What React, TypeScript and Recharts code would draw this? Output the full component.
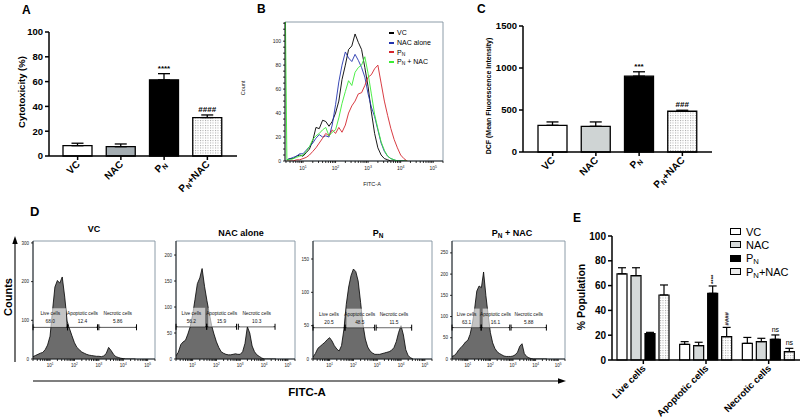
import React from 'react';
import {
  BarChart, Bar, Cell, XAxis, YAxis, ErrorBar, LabelList,
  LineChart, Line, AreaChart, Area, ReferenceLine, ReferenceArea, Legend,
} from 'recharts';

const FONT = 'Arial, "Liberation Sans", Helvetica, sans-serif';
const FRAME = '#7f919e';

// ---- A: cytotoxicity (%)
const treatments = ['VC', 'NAC', 'PN', 'PN+NAC'];
const cytotoxicity = [8.3, 7.5, 61.4, 31.0];
const cytotoxicityErr = [2.0, 2.2, 5.0, 2.1];
const cytotoxicitySig = ['', '', '****', '####'];

// ---- C: DCF mean fluorescence intensity
const dcfMfi = [318, 306, 903, 485];
const dcfErr = [40, 52, 52, 12];
const dcfSig = ['', '', '***', '###'];

// ---- B: DCF overlay histogram (FITC-A vs count)
const fitcB = [2.9, 3.2, 4, 5, 6.3, 7.9, 10, 12.6, 15.8, 20, 25, 31.6, 40, 50, 63, 79, 100, 126, 158, 200, 251, 316, 398, 501, 631, 794, 1000, 1259, 1585, 1995, 2512, 3162, 3981, 5012, 6310, 7943, 10000, 12589, 15849];
const bVC = [null, 1, 2, 2, 4, 5, 4, 7, 10, 17, 28, 27, 34, 33, 29, 33, 40, 50, 68, 80, 93, 96, 106, 99, 93, 78, 62, 41, 23, 11, 5, 2, 1, 0, 0, 0, 0, 0, 0];
const bNAC = [null, 1, 2, 3, 4, 6, 6, 9, 12, 15, 19, 22, 20, 21, 20, 30, 47, 66, 80, 91, 86, 83, 89, 84, 78, 70, 56, 45, 37, 26, 15, 8, 4, 2, 1, 0, 0, 0, 0];
const bPN = [null, 0, 0, 0, 1, 1, 2, 3, 5, 8, 11, 15, 19, 23, 21, 26, 23, 28, 24, 30, 40, 46, 50, 56, 57, 63, 70, 72, 77, 80, 65, 50, 38, 27, 18, 11, 5, 2, 0];
const bPNNAC = [116, 1, 1, 2, 3, 4, 5, 8, 12, 18, 21, 23, 26, 28, 21, 24, 26, 36, 48, 58, 67, 63, 74, 78, 80, 87, 73, 56, 39, 27, 16, 9, 4, 2, 1, 0, 0, 0, 0];
const bSeries = [
  { key: 'vc', label: 'VC', color: '#000000' },
  { key: 'nac', label: 'NAC alone', color: '#2434ae' },
  { key: 'pn', label: 'PN', color: '#d4262e' },
  { key: 'pnNac', label: 'PN + NAC', color: '#3aec34' },
];

// ---- D: annexin histograms
const fitcD = [2, 2.5, 3.2, 4, 5, 6.3, 7.9, 10, 12.6, 15.8, 20, 25, 31.6, 40, 50, 63, 79, 100, 126, 158, 200, 251, 316, 398, 501, 631, 794, 1000, 1259, 1585, 1995, 2512, 3162, 3981, 5012, 6310, 7943, 10000, 12589, 15849, 19953, 25119, 31623];
const dVC = [6, 9, 12, 15, 17, 24, 36, 59, 125, 186, 203, 196, 212, 160, 98, 78, 60, 42, 30, 24, 18, 15, 12, 10, 9, 8, 7, 7, 6, 8, 14, 30, 22, 12, 6, 4, 2, 1, 0, 0, 0, 0, 0];
const dNAC = [6, 13, 28, 33, 36, 48, 62, 85, 115, 145, 156, 174, 140, 112, 88, 64, 48, 33, 22, 14, 11, 9, 8, 8, 9, 10, 9, 9, 14, 30, 62, 50, 25, 14, 8, 5, 2, 0, 0, 0, 0, 0, 0];
const dPN = [3, 8, 16, 19, 22, 25, 29, 32, 27, 20, 15, 12, 20, 45, 82, 108, 125, 135, 131, 117, 85, 52, 30, 18, 12, 9, 7, 7, 7, 8, 9, 10, 11, 13, 17, 26, 40, 50, 36, 14, 5, 2, 0];
const dPNNAC = [6, 8, 14, 22, 27, 33, 40, 44, 58, 82, 118, 160, 172, 168, 205, 150, 105, 62, 38, 25, 17, 13, 10, 7, 6, 6, 6, 7, 10, 16, 30, 36, 13, 6, 3, 1, 0, 0, 0, 0, 0, 0, 0];
const gateNames = ['Live cells', 'Apoptotic cells', 'Necrotic cells'];
const gatesVC = [[2, 52], [52, 880], [1000, 35000]];
const gatesNAC = [[2, 39], [39, 700], [830, 29000]];
const gatesPN = [[2, 44], [44, 780], [900, 28000]];
const gatesPNNAC = [[2, 39], [39, 720], [820, 30000]];
const pctVC = ['68.0', '12.4', '5.86'];
const pctNAC = ['56.2', '15.9', '10.3'];
const pctPN = ['20.5', '48.5', '11.5'];
const pctPNNAC = ['63.1', '16.1', '5.88'];

// ---- E: % population
const populations = ['Live cells', 'Apoptotic cells', 'Necrotic cells'];
const popVC = [69.5, 12.6, 13.4];
const popVCErr = [4.9, 2.2, 4.8];
const popNAC = [68.0, 11.6, 14.8];
const popNACErr = [6.4, 2.7, 2.7];
const popPN = [21.3, 53.8, 16.7];
const popPNErr = [1.0, 5.9, 3.5];
const popPNNAC = [52.4, 18.8, 6.7];
const popPNNACErr = [8.1, 7.5, 2.7];
const popPNSig = ['', '****', 'ns'];
const popPNNACSig = ['', '####', 'ns'];

const logTicks = (lo: number, hi: number) => {
  const out: number[] = [];
  for (let d = 1; d <= 100000; d *= 10) {
    for (let m = 1; m < 10; m++) {
      const v = m * d;
      if (v >= lo && v <= hi) out.push(v);
    }
  }
  return out;
};

const subPN = (label: string, sub: number, shift = 2) => {
  if (!label.startsWith('PN')) return label;
  const rest = label.slice(2);
  return [
    <tspan key="p">P</tspan>,
    <tspan key="n" fontSize={sub} dy={shift}>N</tspan>,
    rest ? <tspan key="r" dy={-shift}>{rest}</tspan> : null,
  ];
};

const htmlPN = (label: string) =>
  label.startsWith('PN') ? (
    <>P<sub style={{ fontSize: '0.7em', verticalAlign: '-0.3em', lineHeight: 0 }}>N</sub>{label.slice(2)}</>
  ) : label;

const RotTick = (p: any) => {
  const { x, y, payload, fs } = p;
  return (
    <g transform={`translate(${x + 3},${y + 3})`}>
      <text transform="rotate(-45)" textAnchor="end" fontSize={fs} fontWeight="bold" fontFamily={FONT} fill="#000">
        {subPN(String(payload.value), fs * 0.7)}
      </text>
    </g>
  );
};

const LogTick = (p: any) => {
  const v = Number(p.payload?.value);
  const l = Math.log10(v);
  const e = Math.round(l);
  if (Math.abs(l - e) > 1e-6) return null;
  return (
    <text x={p.x} y={p.y + p.fs * 0.9} textAnchor="middle" fontSize={p.fs} fontFamily={FONT} fill="#222">
      10<tspan dy={-p.fs * 0.4} fontSize={p.fs * 0.7}>{e}</tspan>
    </text>
  );
};

const sigContent = (errs: number[], pxPerUnit: number, fs: number) => (p: any) => {
  const { x, y, width, value, index } = p;
  if (!value) return null;
  const cx = Number(x) + Number(width) / 2;
  const top = Number(y) - errs[index] * pxPerUnit;
  if (value === 'ns') {
    return <text x={cx} y={top - 3} textAnchor="middle" fontSize={7} fontFamily={FONT} fill="#000">{value}</text>;
  }
  if (fs < 7) {
    const yy = top - 2;
    return (
      <text x={cx} y={yy} transform={`rotate(-90 ${cx} ${yy})`} textAnchor="start" dominantBaseline="central" fontSize={fs} fontWeight="bold" fontFamily={FONT} fill="#000">{value}</text>
    );
  }
  return <text x={cx} y={top - 3} textAnchor="middle" fontSize={fs} fontWeight="bold" fontFamily={FONT} fill="#000">{value}</text>;
};

const axisLine = { stroke: '#000', strokeWidth: 1.5 };
const boldTick = (fs: number) => ({ fontSize: fs, fontWeight: 'bold', fill: '#000', fontFamily: FONT });

// ---------------- A
const rowsA = treatments.map((name, i) => ({ name, value: cytotoxicity[i], err: [0, cytotoxicityErr[i]], sig: cytotoxicitySig[i] }));
const fillA = ['#ffffff', '#a4adb2', '#000000', 'url(#dots)'];

function PanelA() {
  return (
    <div style={{ position: 'absolute', left: 0, top: 0 }}>
      <BarChart width={250} height={200} data={rowsA} margin={{ top: 32, right: 13, left: 0, bottom: 0 }}>
        <XAxis dataKey="name" height={44} padding={{ left: 7, right: 8 }} axisLine={axisLine} tickLine={axisLine} tickSize={4} interval={0} tick={(p: any) => <RotTick {...p} fs={10} />} />
        <YAxis width={49} domain={[0, 100]} ticks={[0, 20, 40, 60, 80, 100]} axisLine={axisLine} tickLine={axisLine} tickSize={4} tick={boldTick(9.5)} />
        <Bar dataKey="value" barSize={29} stroke="#000" strokeWidth={1.3} isAnimationActive={false}>
          {rowsA.map((r, i) => <Cell key={r.name} fill={fillA[i]} />)}
          <ErrorBar dataKey="err" width={6} stroke="#000" strokeWidth={1.3} />
          <LabelList dataKey="sig" content={sigContent(cytotoxicityErr, 1.24, 8)} />
        </Bar>
      </BarChart>
    </div>
  );
}

// ---------------- C
const rowsC = treatments.map((name, i) => ({ name, value: dcfMfi[i], err: [0, dcfErr[i]], sig: dcfSig[i] }));
const fillC = ['#ffffff', '#cfd4d4', '#000000', 'url(#dots)'];

function PanelC() {
  return (
    <div style={{ position: 'absolute', left: 470, top: 0 }}>
      <BarChart width={250} height={200} data={rowsC} margin={{ top: 26, right: 8, left: 0, bottom: 0 }}>
        <XAxis dataKey="name" height={48} padding={{ left: 8, right: 8 }} axisLine={axisLine} tickLine={axisLine} tickSize={4} interval={0} tick={(p: any) => <RotTick {...p} fs={10} />} />
        <YAxis width={53} domain={[0, 1500]} ticks={[0, 500, 1000, 1500]} axisLine={axisLine} tickLine={axisLine} tickSize={4} tick={boldTick(9.5)} />
        <Bar dataKey="value" barSize={29} stroke="#000" strokeWidth={1.3} isAnimationActive={false}>
          {rowsC.map((r, i) => <Cell key={r.name} fill={fillC[i]} />)}
          <ErrorBar dataKey="err" width={6} stroke="#000" strokeWidth={1.3} />
          <LabelList dataKey="sig" content={sigContent(dcfErr, 126 / 1500, 8)} />
        </Bar>
      </BarChart>
    </div>
  );
}

// ---------------- B
const rowsB = fitcB.map((x, i) => ({ x, vc: bVC[i], nac: bNAC[i], pn: bPN[i], pnNac: bPNNAC[i] }));
const ticksB = logTicks(2.8, 200000);
const ticksBY = Array.from({ length: 24 }, (_, i) => i * 5);

const LegendB = () => (
  <div style={{ fontFamily: FONT, fontSize: 7, color: '#000' }}>
    {bSeries.map((s) => (
      <div key={s.key} style={{ display: 'flex', alignItems: 'center', height: 9.7, whiteSpace: 'nowrap' }}>
        <span style={{ display: 'inline-block', width: 5, height: 2, background: s.color, marginRight: 3 }} />
        <span>{htmlPN(s.label)}</span>
      </div>
    ))}
  </div>
);

function PanelB() {
  const thin = { stroke: '#000', strokeWidth: 0.8 };
  return (
    <div style={{ position: 'absolute', left: 265, top: 0 }}>
      <LineChart width={183} height={175} data={rowsB} margin={{ top: 22, right: 5, left: 0, bottom: 0 }}>
        <XAxis dataKey="x" type="number" scale="log" domain={[2.8, 200000]} allowDataOverflow ticks={ticksB} interval={0} height={14} axisLine={thin} tickLine={thin} tickSize={2} tick={(p: any) => <LogTick {...p} fs={5} />} />
        <YAxis type="number" domain={[0, 116]} allowDataOverflow ticks={ticksBY} interval={0} width={20} axisLine={thin} tickLine={thin} tickSize={2} tickFormatter={(v: number) => (v % 20 === 0 ? String(v) : '')} tick={{ fontSize: 5, fill: '#222', fontFamily: FONT }} />
        <ReferenceArea x1={2.8} x2={200000} y1={0} y2={116} fill="none" stroke={FRAME} strokeWidth={0.9} ifOverflow="visible" />
        {bSeries.map((s) => (
          <Line key={s.key} dataKey={s.key} stroke={s.color} strokeWidth={0.9} dot={false} type="linear" isAnimationActive={false} />
        ))}
        <Legend layout="vertical" align="center" verticalAlign="middle" content={LegendB} wrapperStyle={{ left: 124, top: 28, width: 60 }} />
      </LineChart>
    </div>
  );
}

// ---------------- D
const gateLabel = (name: string, pct: string) => (props: any) => {
  const vb = props.viewBox ?? props;
  const x = Number(vb.x) || 0;
  const y = Number(vb.y) || 0;
  const w = Number(vb.width) || 0;
  const cx = x + w / 2;
  return (
    <g>
      <rect x={x + 1.5} y={y - 19} width={Math.max(w - 3, 0)} height={19} fill="#ffffff" fillOpacity={0.6} />
      <line x1={x} x2={x} y1={y - 3} y2={y + 3} stroke="#000" strokeWidth={1} />
      <line x1={x + w} x2={x + w} y1={y - 3} y2={y + 3} stroke="#000" strokeWidth={1} />
      <text x={cx} y={y - 12} textAnchor="middle" fontSize={4.8} fontFamily={FONT} fill="#111">{name}</text>
      <text x={cx} y={y - 4} textAnchor="middle" fontSize={4.8} fontFamily={FONT} fill="#111">{pct}</text>
    </g>
  );
};

const histograms = [
  { id: 'vc', left: 33, plotW: 122, counts: dVC, yMax: 305, yTicks: [0, 100, 200, 300], gates: gatesVC, pcts: pctVC, level: 82 },
  { id: 'nac', left: 176, plotW: 119, counts: dNAC, yMax: 227, yTicks: [0, 50, 100, 150, 200], gates: gatesNAC, pcts: pctNAC, level: 62 },
  { id: 'pn', left: 313, plotW: 119, counts: dPN, yMax: 177, yTicks: [0, 50, 100, 150], gates: gatesPN, pcts: pctPN, level: 47 },
  { id: 'pnNac', left: 452, plotW: 113, counts: dPNNAC, yMax: 278, yTicks: [0, 50, 100, 150, 200, 250], gates: gatesPNNAC, pcts: pctPNNAC, level: 74 },
];
const ticksD = logTicks(2, 200000);

function Histogram({ h }: { h: (typeof histograms)[number] }) {
  const yw = 18;
  const rows = fitcD.map((x, i) => ({ x, c: h.counts[i] }));
  const thin = { stroke: '#000', strokeWidth: 0.8 };
  return (
    <div style={{ position: 'absolute', left: h.left - yw, top: 239 }}>
      <AreaChart width={h.plotW + yw + 1} height={130} data={rows} margin={{ top: 2, right: 1, left: 0, bottom: 0 }}>
        <XAxis dataKey="x" type="number" scale="log" domain={[2, 200000]} allowDataOverflow ticks={ticksD} interval={0} height={10} axisLine={thin} tickLine={thin} tickSize={2} tick={(p: any) => <LogTick {...p} fs={4.5} />} />
        <YAxis type="number" domain={[0, h.yMax]} allowDataOverflow ticks={h.yTicks} interval={0} width={yw} axisLine={thin} tickLine={thin} tickSize={2} tick={{ fontSize: 4.5, fill: '#222', fontFamily: FONT }} />
        <ReferenceArea x1={2} x2={200000} y1={0} y2={h.yMax} fill="none" stroke={FRAME} strokeWidth={0.9} ifOverflow="visible" />
        <Area dataKey="c" type="linear" stroke="#000" strokeWidth={0.8} fill="#6c6c6c" fillOpacity={1} isAnimationActive={false} />
        {h.gates.map((g, i) => (
          <ReferenceLine
            key={gateNames[i]}
            segment={[{ x: g[0], y: h.level }, { x: g[1], y: h.level }]}
            stroke="#000"
            strokeWidth={0.9}
            ifOverflow="visible"
            label={gateLabel(gateNames[i], h.pcts[i])}
          />
        ))}
      </AreaChart>
    </div>
  );
}

// ---------------- E
const rowsE = populations.map((name, i) => ({
  name,
  vc: popVC[i], vcErr: [0, popVCErr[i]],
  nac: popNAC[i], nacErr: [0, popNACErr[i]],
  pn: popPN[i], pnErr: [0, popPNErr[i]], pnSig: popPNSig[i],
  pnNac: popPNNAC[i], pnNacErr: [0, popPNNACErr[i]], pnNacSig: popPNNACSig[i],
}));
const eSeries = [
  { key: 'vc', label: 'VC', fill: '#ffffff', css: '#ffffff' },
  { key: 'nac', label: 'NAC', fill: '#d5d9d9', css: '#d5d9d9' },
  { key: 'pn', label: 'PN', fill: '#000000', css: '#000000' },
  { key: 'pnNac', label: 'PN+NAC', fill: 'url(#dots)', css: '#ececec' },
];

const LegendE = () => (
  <div style={{ fontFamily: FONT, fontSize: 11, color: '#000' }}>
    {eSeries.map((s) => (
      <div key={s.key} style={{ display: 'flex', alignItems: 'center', height: 13.3, whiteSpace: 'nowrap' }}>
        <span style={{ display: 'inline-block', width: 11, height: 7, boxSizing: 'border-box', border: '1.2px solid #000', background: s.css, marginRight: 5 }} />
        <span>{htmlPN(s.label)}</span>
      </div>
    ))}
  </div>
);

function PanelE() {
  return (
    <div style={{ position: 'absolute', left: 560, top: 205 }}>
      <BarChart width={243} height={214} data={rowsE} margin={{ top: 31, right: 3, left: 0, bottom: 0 }} barSize={10} barGap={4}>
        <XAxis dataKey="name" height={59} axisLine={axisLine} tickLine={axisLine} tickSize={4} interval={0} tick={(p: any) => <RotTick {...p} fs={9.5} />} />
        <YAxis width={52} domain={[0, 100]} ticks={[0, 20, 40, 60, 80, 100]} axisLine={axisLine} tickLine={axisLine} tickSize={4} tick={boldTick(10)} />
        {eSeries.map((s) => (
          <Bar key={s.key} dataKey={s.key} fill={s.fill} stroke="#000" strokeWidth={1.2} isAnimationActive={false}>
            <ErrorBar dataKey={`${s.key}Err`} width={4} stroke="#000" strokeWidth={1.2} />
            {s.key === 'pn' && <LabelList dataKey="pnSig" content={sigContent(popPNErr, 1.24, 6)} />}
            {s.key === 'pnNac' && <LabelList dataKey="pnNacSig" content={sigContent(popPNNACErr, 1.24, 6)} />}
          </Bar>
        ))}
        <Legend layout="vertical" align="center" verticalAlign="middle" content={LegendE} wrapperStyle={{ left: 170, top: 20, width: 75 }} />
      </BarChart>
    </div>
  );
}

function Overlay() {
  const b = { fontFamily: FONT, fontWeight: 'bold' as const, fill: '#000' };
  return (
    <svg width={803} height={419} style={{ position: 'absolute', left: 0, top: 0, pointerEvents: 'none' }}>
      <text x={22} y={14} fontSize={12} {...b}>A</text>
      <text x={257} y={13} fontSize={12} {...b}>B</text>
      <text x={477} y={13} fontSize={12} {...b}>C</text>
      <text x={30} y={216} fontSize={13} {...b}>D</text>
      <text x={573} y={222} fontSize={12} {...b}>E</text>
      <text transform="translate(24.5 92) rotate(-90)" textAnchor="middle" fontSize={9.5} {...b}>Cytotoxicity (%)</text>
      <text transform="translate(245 88) rotate(-90)" textAnchor="middle" fontSize={5.5} fontFamily={FONT} fill="#222">Count</text>
      <text x={372} y={186} textAnchor="middle" fontSize={5.5} fontFamily={FONT} fill="#222">FITC-A</text>
      <text transform="translate(490.5 96) rotate(-90)" textAnchor="middle" fontSize={7} {...b}>DCF (Mean Fluorescence Intensity)</text>
      <text transform="translate(585 297) rotate(-90)" textAnchor="middle" fontSize={10.5} {...b}>% Population</text>
      <text transform="translate(11.5 297) rotate(-90)" textAnchor="middle" fontSize={11} {...b}>Counts</text>
      <line x1={15} y1={362} x2={15} y2={242} stroke="#000" strokeWidth={1.1} />
      <polygon points="15,236 12.3,244 17.7,244" fill="#000" />
      <line x1={33} y1={381} x2={560} y2={381} stroke="#000" strokeWidth={1.1} />
      <polygon points="566,381 558,378.3 558,383.7" fill="#000" />
      <text x={307} y={396} textAnchor="middle" fontSize={11.5} {...b}>FITC-A</text>
      <text x={94} y={232} textAnchor="middle" fontSize={9} {...b}>VC</text>
      <text x={241} y={235.5} textAnchor="middle" fontSize={9} {...b}>NAC alone</text>
      <text x={378} y={236} textAnchor="middle" fontSize={9} {...b}>{subPN('PN', 6.5, 2)}</text>
      <text x={512} y={236} textAnchor="middle" fontSize={9} {...b}>{subPN('PN + NAC', 6.5, 2)}</text>
    </svg>
  );
}

export default function App() {
  return (
    <div style={{ position: 'absolute', left: 0, top: 0, width: 803, height: 419, background: '#fff', overflow: 'hidden', fontFamily: FONT }}>
      <svg width={0} height={0} style={{ position: 'absolute' }}>
        <defs>
          <pattern id="dots" width={2.5} height={2.5} patternUnits="userSpaceOnUse">
            <rect width={2.5} height={2.5} fill="#ffffff" />
            <rect width={1} height={1} fill="#a2a2a2" />
          </pattern>
        </defs>
      </svg>
      <PanelA />
      <PanelB />
      <PanelC />
      {histograms.map((h) => <Histogram key={h.id} h={h} />)}
      <PanelE />
      <Overlay />
    </div>
  );
}
